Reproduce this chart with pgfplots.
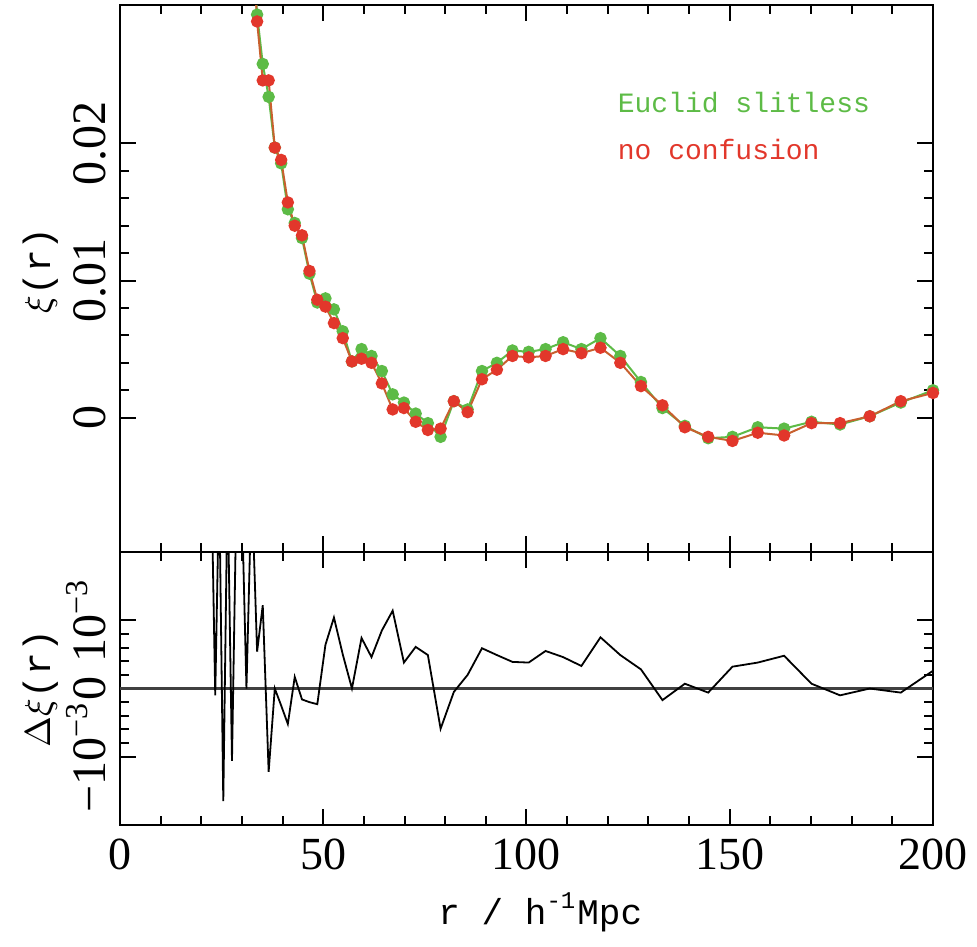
\documentclass[border=0pt]{standalone}
\usepackage{fontspec}
\setmainfont{Liberation Serif}
\setmonofont{Liberation Mono}
\usepackage{pgfplots}
\pgfplotsset{compat=1.18}
\definecolor{EucGreen}{HTML}{5DBB46}
\definecolor{NoConfRed}{HTML}{E2372B}
\definecolor{RedLine}{HTML}{C8602E}

\pgfplotsset{
  panel/.style={
    scale only axis, width=203.25pt,
    xmin=0, xmax=200,
    xtick={0,50,100,150,200}, minor x tick num=4,
    tick align=inside, tick pos=both,
    major tick length=4pt, minor tick length=2.2pt,
    axis line style={line width=0.7pt},
    every tick/.style={black, line width=0.5pt},
    xticklabel style={font=\fontsize{11.5}{13}\selectfont, inner xsep=0.3pt},
    yticklabel style={rotate=90, anchor=south, font=\fontsize{12}{14}\selectfont},
    /pgf/number format/assume math mode=true,
    scaled y ticks=false,
    ylabel style={rotate=0, anchor=center, font=\fontsize{9.5}{11}\selectfont},
    clip=true,
  }
}

\begin{document}
\begin{tikzpicture}
\begin{axis}[panel, name=top,
  height=136.75pt,
  ymin=-0.0098, ymax=0.0301,
  ytick={0,0.01,0.02}, yticklabels={0,0.01,0.02},
  minor y tick num=4,
  xticklabels={},
  ylabel={$\xi$\texttt{(r)}},
  ylabel style={at={(axis description cs:-0.098,0.515)}},
]
\addplot[EucGreen, line width=0.5pt, mark=*, mark size=1.3pt,
  mark options={draw=EucGreen, fill=EucGreen}] coordinates {
 (32.39,0.0360)(33.73,0.0294)(35.12,0.0258)(36.57,0.0234)(38.08,0.0197)
 (39.65,0.01855)(41.29,0.0152)(42.99,0.0142)(44.77,0.0131)(46.61,0.0105)
 (48.54,0.0084)(50.54,0.0087)(52.63,0.0079)(54.80,0.0063)(57.06,0.0041)
 (59.42,0.0050)(61.87,0.0045)(64.42,0.0034)(67.08,0.0017)(69.85,0.0011)
 (72.74,0.0003)(75.74,-0.0004)(78.87,-0.0014)(82.13,0.0012)(85.52,0.0006)
 (89.05,0.0034)(92.72,0.0040)(96.55,0.0049)(100.54,0.0048)(104.69,0.0050)
 (109.01,0.0055)(113.51,0.0050)(118.20,0.0058)(123.08,0.0045)(128.16,0.0026)
 (133.45,0.0007)(138.96,-0.0006)(144.70,-0.0015)(150.67,-0.0014)(156.89,-0.0007)
 (163.37,-0.0008)(170.12,-0.0003)(177.14,-0.0005)(184.45,0.0001)(192.07,0.0011)
 (200.00,0.0020)};
\addplot[RedLine, line width=0.5pt, mark=*, mark size=1.3pt,
  mark options={draw=NoConfRed, fill=NoConfRed}] coordinates {
 (32.39,0.0360)(33.73,0.0289)(35.12,0.0246)(36.57,0.0246)(38.08,0.0197)
 (39.65,0.0188)(41.29,0.0157)(42.99,0.0140)(44.77,0.0133)(46.61,0.0107)
 (48.54,0.0086)(50.54,0.0081)(52.63,0.0069)(54.80,0.0058)(57.06,0.0041)
 (59.42,0.0043)(61.87,0.0040)(64.42,0.0025)(67.08,0.0006)(69.85,0.0007)
 (72.74,-0.0003)(75.74,-0.0009)(78.87,-0.0008)(82.13,0.0012)(85.52,0.0004)
 (89.05,0.0028)(92.72,0.0035)(96.55,0.0045)(100.54,0.0044)(104.69,0.0045)
 (109.01,0.0050)(113.51,0.0047)(118.20,0.0051)(123.08,0.0040)(128.16,0.0023)
 (133.45,0.0009)(138.96,-0.0007)(144.70,-0.0014)(150.67,-0.0017)(156.89,-0.0011)
 (163.37,-0.0013)(170.12,-0.0004)(177.14,-0.0004)(184.45,0.0001)(192.07,0.0012)
 (200.00,0.0018)};
\node[anchor=west, text=EucGreen, font=\ttfamily\fontsize{7}{8}\selectfont]
  at (rel axis cs:0.595,0.821) {Euclid slitless};
\node[anchor=west, text=NoConfRed, font=\ttfamily\fontsize{7}{8}\selectfont]
  at (rel axis cs:0.595,0.735) {no confusion};
\end{axis}

\begin{axis}[panel, at={(top.south west)}, anchor=north west,
  height=68.25pt,
  ymin=-0.002, ymax=0.002,
  ytick={-0.001,0,0.001},
  yticklabels={−10\textsuperscript{−3},0,10\textsuperscript{−3}},
  minor y tick num=4,
  xticklabels={0,50,100,150,200},
  ylabel={$\Delta\xi$\texttt{(r)}},
  ylabel style={at={(axis description cs:-0.098,0.5)}},
  xlabel={\texttt{r / h\textsuperscript{-1}Mpc}},
  xlabel style={at={(axis description cs:0.517,-0.32)}, anchor=center,
    font=\fontsize{9}{11}\selectfont},
]
\addplot[black!75, line width=0.8pt] coordinates {(0,0)(200,0)};
\addplot[black, line width=0.45pt] coordinates {
 (22.50,0.0030)(23.43,-0.0001)(24.40,0.0030)(25.41,-0.00165)(26.46,0.0030)
 (27.55,-0.00106)(28.69,0.0030)(29.87,0.0030)(31.11,0.0000)(32.39,0.0030)
 (33.73,0.00054)(35.12,0.00122)(36.57,-0.00122)(38.08,0.0000)(39.65,-0.00025)
 (41.29,-0.00052)(42.99,0.00017)(44.77,-0.00016)(46.61,-0.00020)(48.54,-0.00023)
 (50.54,0.00064)(52.63,0.00104)(54.80,0.00050)(57.06,0.00000)(59.42,0.00074)
 (61.87,0.00046)(64.42,0.00085)(67.08,0.00114)(69.85,0.00038)(72.74,0.00061)
 (75.74,0.00049)(78.87,-0.00059)(82.13,-0.00005)(85.52,0.00020)(89.05,0.00059)
 (92.72,0.00049)(96.55,0.00039)(100.54,0.00038)(104.69,0.00055)(109.01,0.00046)
 (113.51,0.00033)(118.20,0.00075)(123.08,0.00049)(128.16,0.00028)(133.45,-0.00017)
 (138.96,0.00007)(144.70,-0.00006)(150.67,0.00032)(156.89,0.00038)(163.37,0.00048)
 (170.12,0.00007)(177.14,-0.00010)(184.45,0.00000)(192.07,-0.00006)(200.00,0.00026)};
\end{axis}
\path ([shift={(-30pt,1.25pt)}]top.north west)
  rectangle ([shift={(214.25pt,-235.25pt)}]top.north west);
\end{tikzpicture}
\end{document}
